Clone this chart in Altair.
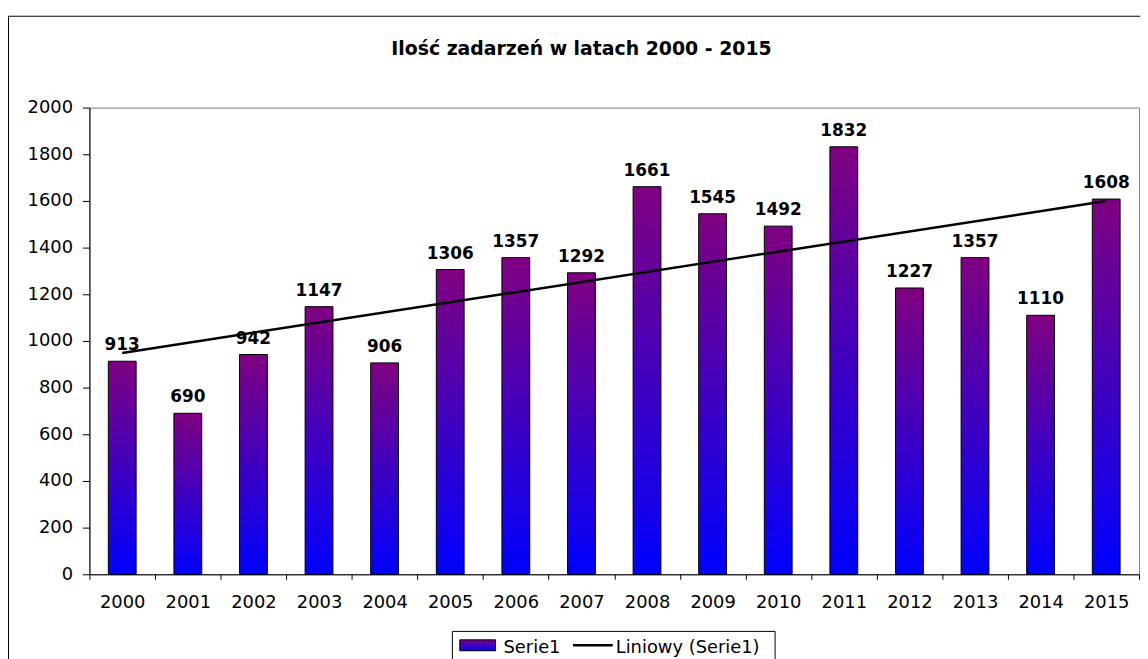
import altair as alt
import pandas as pd

# ---- data ----
years = [2000, 2001, 2002, 2003, 2004, 2005, 2006, 2007,
         2008, 2009, 2010, 2011, 2012, 2013, 2014, 2015]
values = [913, 690, 942, 1147, 906, 1306, 1357, 1292,
          1661, 1545, 1492, 1832, 1227, 1357, 1110, 1608]
y_ticks = [0, 200, 400, 600, 800, 1000, 1200, 1400, 1600, 1800, 2000]
title_text = "Ilość zadarzeń w latach 2000 - 2015"
series_name = "Serie1"
trend_name = "Liniowy (Serie1)"

df = pd.DataFrame({"year": years, "yr": [str(y) for y in years], "value": values})
yr_domain = [str(y) for y in years]

FONT = "DejaVu Sans"
W, H = 1057, 470

grad = alt.Gradient(
    gradient="linear",
    stops=[alt.GradientStop(color="#800080", offset=0),
           alt.GradientStop(color="#0000FF", offset=1)],
    x1=0, x2=0, y1=0, y2=1,
)

x_enc = alt.X("yr:O", scale=alt.Scale(domain=yr_domain, paddingInner=0, paddingOuter=0),
              axis=alt.Axis(title=None, labelAngle=0, tickBand="extent", tickSize=5,
                            labelPadding=14))
y_enc = alt.Y("value:Q", scale=alt.Scale(domain=[0, 2000], nice=False),
              axis=alt.Axis(title=None, values=y_ticks, format="d", tickSize=7,
                            labelPadding=10, grid=False))

base = alt.Chart(df)

bars = base.mark_bar(fill=grad, stroke="black", strokeWidth=1, size=28).encode(
    x=x_enc, y=y_enc
)

labels = base.mark_text(font=FONT, fontSize=17, fontWeight="bold", color="black",
                        baseline="alphabetic", dy=-11).encode(
    x="yr:O", y="value:Q", text="value:Q"
)

trend = base.transform_regression("year", "value").transform_calculate(
    yr="toString(datum.year)"
).mark_line(color="black", strokeWidth=2.5).encode(
    x="yr:O", y="value:Q"
)

one = alt.Data(values=[{"k": 0}])

frame = alt.Chart(one).mark_rect(fill=None, stroke="black", strokeWidth=1).encode(
    x=alt.value(-81.5), x2=alt.value(W + 40), y=alt.value(-92), y2=alt.value(H + 120)
)

title = alt.Chart(one).mark_text(font=FONT, fontSize=19, fontWeight="bold", color="black",
                                 baseline="alphabetic", align="center").encode(
    x=alt.value(495.5), y=alt.value(-53), text=alt.value(title_text)
)

legend_box = alt.Chart(one).mark_rect(fill="white", stroke="black", strokeWidth=1).encode(
    x=alt.value(365.5), x2=alt.value(690.5), y=alt.value(527.5), y2=alt.value(H + 110)
)
legend_swatch = alt.Chart(one).mark_rect(fill=grad, stroke="black", strokeWidth=1).encode(
    x=alt.value(373), x2=alt.value(409), y=alt.value(536), y2=alt.value(547)
)
legend_text1 = alt.Chart(one).mark_text(font=FONT, fontSize=18, color="black",
                                        baseline="alphabetic", align="left").encode(
    x=alt.value(417), y=alt.value(549), text=alt.value(series_name)
)
legend_line = alt.Chart(one).mark_rule(color="black", strokeWidth=2.5).encode(
    x=alt.value(487), x2=alt.value(527), y=alt.value(541.5)
)
legend_text2 = alt.Chart(one).mark_text(font=FONT, fontSize=18, color="black",
                                        baseline="alphabetic", align="left").encode(
    x=alt.value(530), y=alt.value(549), text=alt.value(trend_name)
)

chart = alt.layer(
    frame, bars, trend, labels, title,
    legend_box, legend_swatch, legend_text1, legend_line, legend_text2
).properties(
    width=W, height=H,
    autosize=alt.AutoSizeParams(type="none"),
    padding={"left": 82, "top": 98, "right": 1, "bottom": 83},
    background="white",
).configure_view(
    stroke="#808080", strokeWidth=1
).configure_axis(
    labelFont=FONT, labelFontSize=18, labelColor="black",
    domainColor="black", tickColor="black", domainWidth=1, tickWidth=1,
)

chart.save("out.html", embed_options={"renderer": "svg", "actions": False})
